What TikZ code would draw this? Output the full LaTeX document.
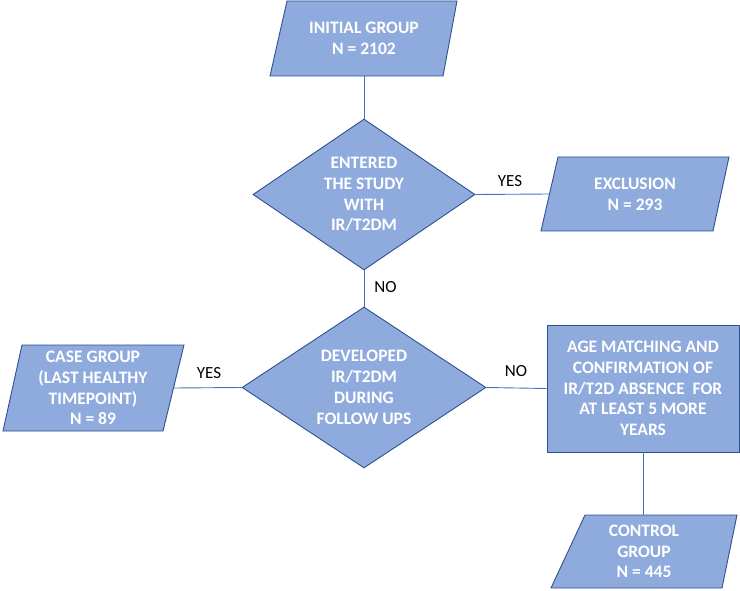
\documentclass[tikz,border=0pt]{standalone}
\usepackage{fontspec}
\setmainfont{Carlito}
\usetikzlibrary{shapes.geometric}
\definecolor{boxfill}{HTML}{8FAADC}
\definecolor{boxline}{HTML}{2F528F}
\definecolor{conn}{HTML}{4472C4}
\tikzset{
  shapebox/.style={fill=boxfill, draw=boxline, line width=0.9pt, line join=miter},
  txt/.style={text=white, font=\fontsize{17.5}{20.8}\selectfont\bfseries, align=center, inner sep=0pt},
  anchorbox/.style={rectangle, inner sep=0pt, minimum width=#1},
  dia/.style={diamond, shapebox, inner sep=0pt},
  link/.style={draw=conn, line width=0.9pt},
  lbl/.style={font=\fontsize{17}{20}\selectfont, text=black, inner sep=0pt}
}
\begin{document}
\begin{tikzpicture}[x=1pt, y=-1pt]
\useasboundingbox (0,0) rectangle (740,591);
\fill[white] (0,0) rectangle (740,591);

% parallelograms
\filldraw[shapebox] (287,1) -- (457,1) -- (443,76) -- (270,76) -- cycle;
\node[anchorbox=171.5, minimum height=75] (init) at (364,38.5) {};
\node[txt] at (init) {INITIAL GROUP\\N = 2102};

\filldraw[shapebox] (558,157) -- (729,157) -- (713,231) -- (541,231) -- cycle;
\node[anchorbox=171.5, minimum height=74] (excl) at (635,194) {};
\node[txt] at (excl) {EXCLUSION\\N = 293};

\filldraw[shapebox] (22,345) -- (184,345) -- (163,431) -- (3,431) -- cycle;
\node[anchorbox=161, minimum height=86] (case) at (93,388) {};
\node[txt] at (case) {CASE GROUP\\(LAST HEALTHY\\TIMEPOINT)\\N = 89};

\filldraw[shapebox] (585,515) -- (737,515) -- (722,588) -- (551,588) -- cycle;
\node[anchorbox=161.5, minimum height=73] (ctrl) at (649,551.5) {};
\node[txt] at ([xshift=-5]ctrl.center) {CONTROL\\GROUP\\N = 445};

% rectangle
\node[shapebox, rectangle, minimum width=192, minimum height=127, inner sep=0pt] (match) at (643,388.5) {};
\node[txt] at (match) {AGE MATCHING AND\\CONFIRMATION OF\\IR/T2D ABSENCE~ FOR\\AT LEAST 5 MORE\\YEARS};

% diamonds
\node[dia, minimum width=222, minimum height=151] (d1) at (364,194.5) {};
\node[txt] at (d1) {ENTERED\\THE STUDY\\WITH\\IR/T2DM};

\node[dia, minimum width=244, minimum height=161] (d2) at (364,387.5) {};
\node[txt] at (d2) {DEVELOPED\\IR/T2DM\\DURING\\FOLLOW UPS};

% connectors
\draw[link] (init.south) -- (d1.north);
\draw[link] (d1.east) -- (excl.west);
\draw[link] (d1.south) -- (d2.north);
\draw[link] (d2.west) -- (case.east);
\draw[link] (d2.east) -- (match.west);
\draw[link] (match.south) -- (match.south |- ctrl.north);

% labels
\node[lbl] (yes1) at (510,181) {YES};
\node[lbl] (no1) at (385.5,287) {NO};
\node[lbl] (yes2) at (209,373) {YES};
\node[lbl] (no2) at (516,371) {NO};
\end{tikzpicture}
\end{document}
